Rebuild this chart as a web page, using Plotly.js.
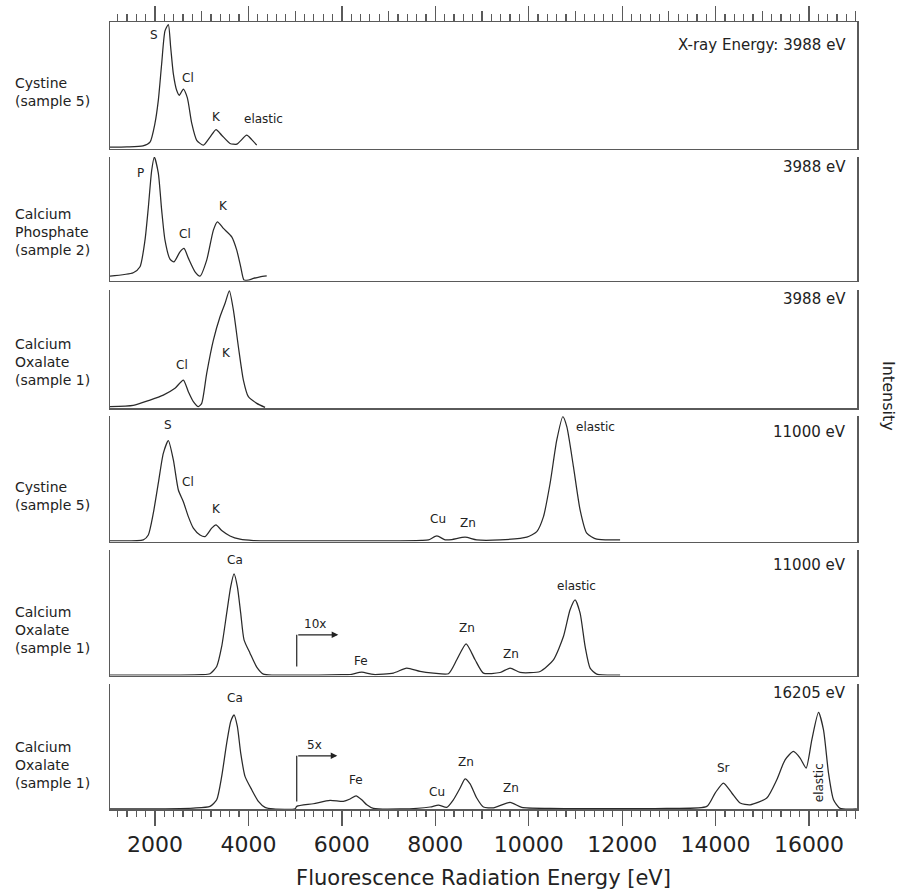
<!DOCTYPE html>
<html>
<head>
<meta charset="utf-8">
<script src="https://cdn.plot.ly/plotly-3.0.1.min.js"></script>
<style>html,body{margin:0;padding:0;background:#fff;}#chart{width:905px;height:893px;}</style>
</head>
<body>
<div id="chart"></div>
<script>
// ---- Data (energy in eV, intensity in arbitrary units, 0-100 per panel) ----
const p1Energy = [1037,1400,1743,1893,2000,2071,2143,2214,2286,2336,2393,2464,2521,2607,2693,2786,2893,3036,3178,3306,3428,3606,3750,3963,4071,4178];
const p1Intensity = [1,1.2,2,5,20,38,67,93,98,80,59,46,42,47,40,20,6.5,2.6,9,15,10.5,4,3.4,10.5,7,2.6];

const p2Energy = [1037,1535,1679,1786,1857,1929,1986,2071,2143,2214,2321,2407,2535,2621,2714,2857,2964,3107,3250,3336,3464,3643,3750,3835,3906,3999,4106,4249,4392];
const p2Intensity = [3.8,6.5,11.3,32.8,59,89,99.8,86.9,57,32.8,17.5,15.3,23.4,26.1,18.3,7.3,3.8,16.7,40.9,47.6,42.3,35.5,24.8,11.3,0.6,0.6,1.9,3.2,4];

const p3Energy = [1037,1535,1893,2178,2428,2607,2714,2821,2928,3000,3107,3250,3392,3500,3592,3678,3785,3892,3999,4178,4356];
const p3Intensity = [1.4,2.5,7,11.2,16.9,23.9,14,5.6,1.4,4.2,29.6,57.7,77.4,88.8,99.4,83.2,52.1,23.9,9.8,4.2,0.8];

const p4Energy = [1037,1750,1857,1964,2071,2178,2286,2393,2500,2607,2714,2821,2964,3071,3214,3306,3428,3606,3820,4106,5000,6000,7000,7700,7855,8034,8212,8355,8638,8887,9388,9959,10173,10316,10458,10601,10729,10815,10957,11100,11242,11456,11956];
const p4Intensity = [0.6,1.4,5.3,22.6,46.5,70.3,80.4,65,41.1,31.8,19.9,10.7,5.3,4,10.7,13.3,8.8,4.5,1.9,0.8,0.6,0.6,0.6,1,1.4,4.5,1.4,1.6,3.5,1.4,1.4,3.5,8,19.9,46.5,80.9,99.4,91.5,59.7,25.2,6.7,1.9,1.4];

const p5Energy = [1037,2500,3000,3178,3321,3428,3535,3621,3692,3763,3835,3906,4034,4178,4320,4534,5000,5500,6000,6176,6426,6675,7103,7388,7675,7960,8281,8460,8660,8852,9030,9388,9602,9816,10244,10529,10743,10885,10993,11100,11207,11314,11456,11956];
const p5Intensity = [0.2,0.3,0.6,1.4,7.2,23.1,49.6,70.8,80.9,70.8,49.6,28.4,17.8,6.7,1.1,0.3,0.3,0.3,0.6,0.8,2.7,0.8,1.9,5.9,3.2,1.9,1.4,12.5,25.2,12.5,1.9,2.4,5.9,2.4,3.2,12.5,31,52.3,60.2,49.6,23.1,5.9,1.1,0.3];

const p6Energy = [1037,1535,2821,3178,3321,3428,3535,3621,3692,3763,3835,3927,4071,4213,4356,4534,5000,5034,5390,5747,6032,6176,6304,6426,6533,6675,7246,7889,8067,8246,8388,8531,8638,8745,8887,9030,9245,9602,9852,10458,12955,13812,13990,14168,14347,14525,14739,15096,15310,15488,15666,15809,15938,16060,16203,16310,16417,16524,16667,17024];
const p6Intensity = [0,0,0.8,2.1,7.4,26.1,52.8,70.1,75.4,66.1,44.8,26.1,15.4,6.1,1.3,0,0.2,2.1,4.2,6.9,6.1,8,10.6,7.4,3.4,0.5,0,1.6,3.2,1.3,7.4,16.8,24.2,20.2,8.8,1.6,1,5.3,1.3,0.5,0.5,2.1,12.8,20.8,12.8,4.8,3.4,8.8,23.4,39.4,46.1,40.8,32.8,55.4,77.3,63.4,28.8,7.4,0.5,0];

const sampleLabels = ["Cystine<br>(sample 5)","Calcium<br>Phosphate<br>(sample 2)","Calcium<br>Oxalate<br>(sample 1)","Cystine<br>(sample 5)","Calcium<br>Oxalate<br>(sample 1)","Calcium<br>Oxalate<br>(sample 1)"];
const excitationLabels = ["X-ray Energy: 3988 eV","3988 eV","3988 eV","11000 eV","11000 eV","16205 eV"];

// ---- Layout helpers ----
const FONT = "DejaVu Sans, Verdana, sans-serif";
const LINEC = "#5a5a5a";
const CURVEC = "#2a2a2a";
const XR = [1037, 17027];
const plotTop = 21.7, plotBot = 809.3, plotH = plotBot - plotTop;
const panelPx = [[21.7,148.3],[156.7,280.7],[290,408.3],[416,541.7],[550,675.7],[684.3,809.3]];
const pp = v => (plotBot - v) / plotH;

const energies = [p1Energy,p2Energy,p3Energy,p4Energy,p5Energy,p6Energy];
const intens = [p1Intensity,p2Intensity,p3Intensity,p4Intensity,p5Intensity,p6Intensity];

const traces = energies.map((e,i) => ({
  x: e, y: intens[i], type: "scatter", mode: "lines",
  xaxis: i===0 ? "x" : "x"+(i+1), yaxis: i===0 ? "y" : "y"+(i+1),
  line: {color: CURVEC, width: 1.25, shape: "spline", smoothing: 0.6},
  hoverinfo: "skip", showlegend: false
}));
// empty helper traces so that the overlay tick axes are drawn
traces.push({x: XR, y: [null, null], xaxis: "x7", yaxis: "y6", mode: "lines", hoverinfo: "skip", showlegend: false});
traces.push({x: XR, y: [null, null], xaxis: "x8", yaxis: "y", mode: "lines", hoverinfo: "skip", showlegend: false});

const layout = {
  width: 905, height: 893,
  margin: {l: 110, r: 48, t: 21.7, b: 83.7},
  paper_bgcolor: "#fff", plot_bgcolor: "#fff",
  font: {family: FONT, color: "#222"},
  showlegend: false,
  annotations: [], shapes: []
};

for (let i = 0; i < 6; i++) {
  const xa = i===0 ? "xaxis" : "xaxis"+(i+1);
  const ya = i===0 ? "yaxis" : "yaxis"+(i+1);
  const yid = i===0 ? "y" : "y"+(i+1);
  layout[xa] = {
    domain: [0,1], anchor: yid, range: XR, fixedrange: true,
    showline: true, linecolor: LINEC, linewidth: 1.5,
    showgrid: false, zeroline: false, ticks: "", showticklabels: false
  };
  layout[ya] = {
    domain: [pp(panelPx[i][1]), pp(panelPx[i][0])], anchor: i===0 ? "x" : "x"+(i+1),
    range: [0, 100], fixedrange: true,
    showline: true, mirror: true, linecolor: LINEC, linewidth: 1.5,
    showgrid: false, zeroline: false, ticks: "", showticklabels: false
  };
}
// top axis (panel 1): ticks on top, line mirrored to the bottom
Object.assign(layout.xaxis, {
  side: "top", mirror: true,
  ticks: "outside", tick0: 0, dtick: 2000, ticklen: 15, tickwidth: 1.3, tickcolor: LINEC,
  minor: {ticks: "outside", dtick: 200, tick0: 0, ticklen: 6.5, tickwidth: 1.2, tickcolor: LINEC}
});
layout.xaxis8 = {overlaying: "x", anchor: "y", side: "top", range: XR, fixedrange: true,
  ticks: "outside", tick0: 0, dtick: 1000, ticklen: 10, tickwidth: 1.2, tickcolor: LINEC,
  showticklabels: false, showline: false, showgrid: false, zeroline: false};
// bottom axis ticks / labels
Object.assign(layout.xaxis6, {
  ticks: "outside", tick0: 0, dtick: 2000, ticklen: 15, tickwidth: 1.3, tickcolor: LINEC,
  showticklabels: true, tickformat: "d", tickfont: {size: 22, color: "#222"},
  minor: {ticks: "outside", dtick: 200, tick0: 0, ticklen: 6, tickwidth: 1.2, tickcolor: LINEC},
  title: {text: "Fluorescence Radiation Energy [eV]", font: {size: 21, color: "#222"}, standoff: 14}
});
layout.xaxis7 = {overlaying: "x6", anchor: "y6", side: "bottom", range: XR, fixedrange: true,
  ticks: "outside", tick0: 0, dtick: 1000, ticklen: 9, tickwidth: 1.2, tickcolor: LINEC,
  showticklabels: false, showline: false, showgrid: false, zeroline: false};

// left sample labels
const labelCenters = [91.5, 231.5, 362, 496, 630, 765];
sampleLabels.forEach((t,i) => layout.annotations.push({
  xref: "paper", yref: "paper", x: (13-110)/747, y: pp(labelCenters[i]),
  xanchor: "left", yanchor: "middle", align: "left", showarrow: false,
  text: t, font: {size: 14, color: "#222"}
}));
// excitation energy labels (top right of each panel)
const excVals = [81.6, 91.7, 92.4, 87.5, 88.1, 92.8];
excitationLabels.forEach((t,i) => layout.annotations.push({
  xref: i===0 ? "x" : "x"+(i+1), yref: i===0 ? "y" : "y"+(i+1),
  x: 16835, y: excVals[i], xanchor: "right", yanchor: "middle", showarrow: false,
  text: t, font: {size: 15, color: "#222"}
}));
// peak labels
function pk(panel, x, y, text, extra) {
  const a = {xref: panel===1 ? "x" : "x"+panel, yref: panel===1 ? "y" : "y"+panel,
    x: x, y: y, text: text, showarrow: false, xanchor: "center", yanchor: "middle",
    font: {size: 12, color: "#222"}};
  layout.annotations.push(Object.assign(a, extra || {}));
}
pk(1,1986,89.5,"S"); pk(1,2696,56,"Cl"); pk(1,3320,25,"K"); pk(1,4318,23,"elastic");
pk(2,1700,87,"P"); pk(2,2642,38,"Cl"); pk(2,3464,60,"K");
pk(3,2571,36.6,"Cl"); pk(3,3535,47,"K");
pk(4,2286,92.8,"S"); pk(4,2714,47.7,"Cl"); pk(4,3320,25.8,"K"); pk(4,8067,18,"Cu"); pk(4,8705,14.6,"Zn"); pk(4,11440,91.5,"elastic");
pk(5,3713,92,"Ca"); pk(5,6410,11.7,"Fe"); pk(5,8672,37.7,"Zn"); pk(5,9617,17.3,"Zn"); pk(5,11027,71.4,"elastic"); pk(5,5425,41,"10x");
pk(6,3713,88.8,"Ca"); pk(6,5425,51.4,"5x"); pk(6,6303,23.4,"Fe"); pk(6,8043,14,"Cu"); pk(6,8651,38,"Zn"); pk(6,9623,16.8,"Zn"); pk(6,14168,32.8,"Sr");
pk(6,16218,20.8,"elastic",{textangle:-90});

// scale-change arrows (10x, 5x)
[[5, 5034, 7.2, 32.4, 5924],[6, 5034, 6.1, 42.6, 5903]].forEach(a => {
  const xr = "x"+a[0], yr = "y"+a[0];
  layout.shapes.push({type: "line", xref: xr, yref: yr, x0: a[1], x1: a[1], y0: a[2], y1: a[3],
    line: {color: "#222", width: 1.2}});
  layout.annotations.push({xref: xr, yref: yr, axref: xr, ayref: yr, x: a[4], y: a[3], ax: a[1], ay: a[3],
    text: "", showarrow: true, arrowhead: 2, arrowsize: 1.1, arrowwidth: 1.2, arrowcolor: "#222", standoff: 0, startstandoff: 0});
});

// Intensity label on the right
layout.annotations.push({xref: "paper", yref: "paper", x: (889-110)/747, y: pp(396),
  xanchor: "center", yanchor: "middle", textangle: 90, showarrow: false,
  text: "Intensity", font: {size: 16, color: "#222"}});

Plotly.newPlot("chart", traces, layout, {staticPlot: true, displayModeBar: false});
</script>
</body>
</html>
